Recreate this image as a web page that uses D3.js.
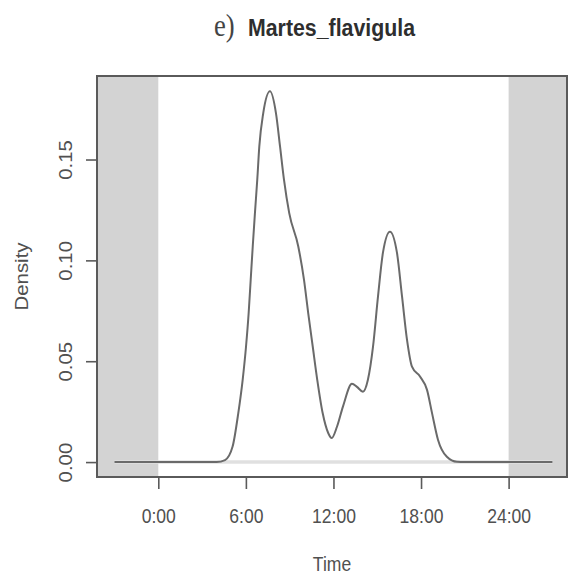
<!DOCTYPE html>
<html>
<head>
<meta charset="utf-8">
<script src="https://cdn.jsdelivr.net/npm/d3@7"></script>
<style>
  html, body { margin: 0; padding: 0; background: #fff; }
  svg { display: block; }
</style>
</head>
<body>
<svg id="chart" width="568" height="580"></svg>
<script>
// Kernel density of activity time (hours), Martes flavigula
const hours = [-3, 0, 3, 4.0, 4.57, 5.09, 5.48, 5.78, 6.01, 6.19, 6.33, 6.47, 6.62, 6.78, 6.92, 7.19, 7.65,
  8.06, 8.34, 8.61, 8.97, 9.59, 9.98, 10.27, 10.58, 10.89, 11.26, 11.64, 11.88,
  12.24, 12.65, 13.27, 13.61, 14.02, 14.36, 14.71, 15.05, 15.39, 15.87,
  16.35, 16.70, 17.04, 17.38, 17.93, 18.41, 18.75, 19.16, 19.77, 20.46, 21, 24, 27];
const density = [0, 0, 0, 0, 0.001, 0.0077, 0.0243, 0.0408, 0.0573, 0.0739, 0.0904, 0.1069, 0.1234, 0.140, 0.1565, 0.173, 0.1838,
  0.173, 0.1565, 0.140, 0.1234, 0.1069, 0.0904, 0.0739, 0.0573, 0.0408, 0.0243, 0.0144, 0.0119,
  0.0175, 0.0275, 0.0388, 0.0373, 0.0349, 0.0408, 0.0572, 0.0820, 0.1038, 0.1142,
  0.1038, 0.0820, 0.0606, 0.0473, 0.0424, 0.0358, 0.0244, 0.0111, 0.0026, 0.0001, 0, 0, 0];

const xTicks = [0, 6, 12, 18, 24];
const xTickLabels = ["0:00", "6:00", "12:00", "18:00", "24:00"];
const yTicks = [0, 0.05, 0.10, 0.15];
const yTickLabels = ["0.00", "0.05", "0.10", "0.15"];
const nightSpans = [[-4.2, 0], [24, 28]];

const titleLetter = "e)";
const titleName = "Martes_flavigula";
const xTitle = "Time";
const yTitle = "Density";

const svg = d3.select("#chart");
const pLeft = 97, pRight = 567, pTop = 76, pBottom = 477;
const sx = 0.86;  // horizontal squeeze applied to all text
const fs = 20.4;
const sans = "'Liberation Sans', Arial, sans-serif";
const serif = "'Liberation Serif', 'Times New Roman', serif";

const x = d3.scaleLinear().domain([-4.2, 28]).range([pLeft, pRight]);
const y = d3.scaleLinear().domain([-0.0074, 0.1914]).range([pBottom, pTop]);

svg.append("clipPath").attr("id", "plotclip")
  .append("rect").attr("x", pLeft).attr("y", pTop)
  .attr("width", pRight - pLeft).attr("height", pBottom - pTop);

const plot = svg.append("g").attr("clip-path", "url(#plotclip)");

// night shading
plot.selectAll("rect.night").data(nightSpans).join("rect")
  .attr("class", "night")
  .attr("x", d => x(d[0]))
  .attr("y", pTop)
  .attr("width", d => x(d[1]) - x(d[0]))
  .attr("height", pBottom - pTop)
  .attr("fill", "#d3d3d3");

// zero reference line
plot.append("line")
  .attr("x1", x(d3.min(hours))).attr("x2", x(d3.max(hours)))
  .attr("y1", y(0)).attr("y2", y(0))
  .attr("stroke", "#e0e0e0").attr("stroke-width", 3.4);

// density curve
const pts = hours.map((h, i) => [h, density[i]]);
plot.append("path")
  .datum(pts)
  .attr("fill", "none")
  .attr("stroke", "#6a6a6a")
  .attr("stroke-width", 2)
  .attr("stroke-linejoin", "round")
  .attr("d", d3.line().x(d => x(d[0])).y(d => y(d[1])).curve(d3.curveMonotoneX));

// frame
svg.append("rect")
  .attr("x", pLeft).attr("y", pTop)
  .attr("width", pRight - pLeft).attr("height", pBottom - pTop)
  .attr("fill", "none").attr("stroke", "#5a5a5a").attr("stroke-width", 2);

// x axis
const xAxis = svg.append("g")
  .attr("transform", `translate(0,${pBottom})`)
  .call(d3.axisBottom(x).tickValues(xTicks).tickSize(12)
    .tickFormat((d, i) => xTickLabels[i]));
xAxis.select(".domain").remove();
xAxis.selectAll(".tick line").attr("stroke", "#5a5a5a").attr("stroke-width", 1.6);
xAxis.selectAll(".tick text")
  .attr("y", null).attr("dy", null)
  .attr("transform", `translate(0,45.5) scale(${sx},1)`)
  .style("font-size", fs + "px")
  .style("font-family", sans)
  .attr("fill", "#505050");

// y axis
const yAxis = svg.append("g")
  .attr("transform", `translate(${pLeft},0)`)
  .call(d3.axisLeft(y).tickValues(yTicks).tickSize(11)
    .tickFormat((d, i) => yTickLabels[i]));
yAxis.select(".domain").remove();
yAxis.selectAll(".tick line").attr("stroke", "#5a5a5a").attr("stroke-width", 1.6);
yAxis.selectAll(".tick text")
  .attr("x", null).attr("dy", null)
  .attr("text-anchor", "middle")
  .attr("transform", `translate(-25,0) scale(${sx},1) rotate(-90)`)
  .style("font-size", fs + "px")
  .style("font-family", sans)
  .attr("fill", "#505050");

// axis titles
svg.append("text")
  .attr("transform", `translate(${(pLeft + pRight) / 2},571) scale(${sx},1)`)
  .attr("text-anchor", "middle")
  .style("font-size", fs + "px")
  .style("font-family", sans)
  .attr("fill", "#505050")
  .text(xTitle);

svg.append("text")
  .attr("transform", `translate(28,${(pTop + pBottom) / 2}) scale(${sx},1) rotate(-90)`)
  .attr("text-anchor", "middle")
  .style("font-size", fs + "px")
  .style("font-family", sans)
  .attr("fill", "#505050")
  .text(yTitle);

// main title
svg.append("text")
  .attr("transform", `translate(214,36) scale(${sx},1)`)
  .style("font-family", serif)
  .style("font-size", "31px")
  .attr("fill", "#444")
  .text(titleLetter);

svg.append("text")
  .attr("transform", `translate(248,36) scale(${sx},1)`)
  .style("font-family", sans)
  .style("font-weight", "bold")
  .style("font-size", "24.8px")
  .attr("fill", "#2e2e2e")
  .text(titleName);
</script>
</body>
</html>
